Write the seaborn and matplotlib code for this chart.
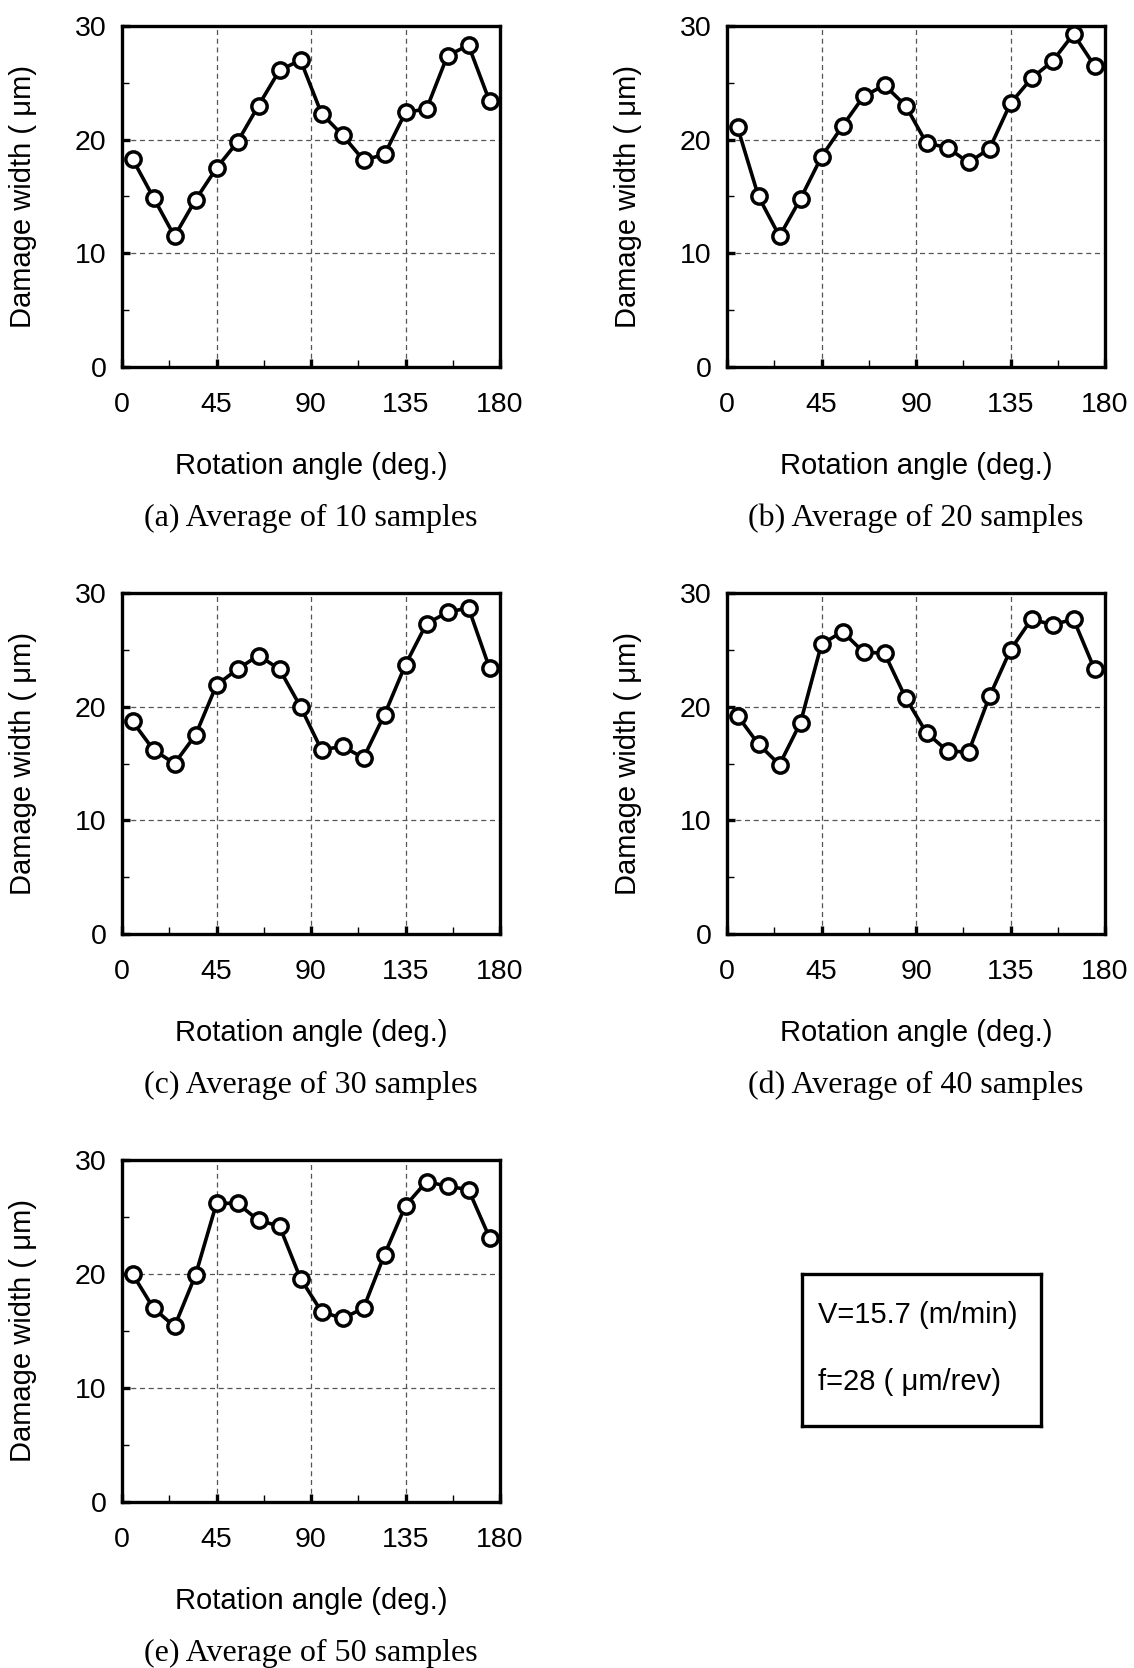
import matplotlib
matplotlib.use("Agg")
import matplotlib.pyplot as plt
from matplotlib.ticker import MultipleLocator
import seaborn as sns
import pandas as pd

sns.set_theme(style="white")
plt.rcParams['font.family'] = ['Liberation Sans', 'DejaVu Sans']

# ---- data ----
angles = [5, 15, 25, 35, 45, 55, 65, 75, 85, 95, 105, 115, 125, 135, 145, 155, 165, 175]
avg10 = [18.3, 14.9, 11.5, 14.7, 17.5, 19.8, 23.0, 26.1, 27.0, 22.3, 20.4, 18.2, 18.7, 22.4, 22.7, 27.4, 28.3, 23.4]
avg20 = [21.1, 15.0, 11.5, 14.8, 18.5, 21.2, 23.8, 24.8, 23.0, 19.7, 19.3, 18.0, 19.2, 23.2, 25.4, 26.9, 29.3, 26.5]
avg30 = [18.7, 16.2, 15.0, 17.5, 21.9, 23.3, 24.5, 23.3, 20.0, 16.2, 16.5, 15.5, 19.3, 23.7, 27.3, 28.3, 28.7, 23.4]
avg40 = [19.2, 16.7, 14.9, 18.6, 25.5, 26.6, 24.8, 24.7, 20.8, 17.7, 16.1, 16.0, 20.9, 25.0, 27.7, 27.2, 27.7, 23.3]
avg50 = [20.0, 17.0, 15.4, 19.9, 26.2, 26.2, 24.7, 24.2, 19.6, 16.7, 16.1, 17.0, 21.7, 26.0, 28.1, 27.7, 27.4, 23.2]
series = [avg10, avg20, avg30, avg40, avg50]
captions = ["(a) Average of 10 samples", "(b) Average of 20 samples",
            "(c) Average of 30 samples", "(d) Average of 40 samples",
            "(e) Average of 50 samples"]
x_ticks = [0, 45, 90, 135, 180]
y_ticks = [0, 10, 20, 30]
xlabel = "Rotation angle (deg.)"
ylabel = "Damage width ( \u03bcm)"
info_lines = ["V=15.7 (m/min)", "f=28 ( \u03bcm/rev)"]

W, H = 1134, 1668
fig = plt.figure(figsize=(W / 100, H / 100), dpi=100)

# axes boxes in pixels (left, top, right, bottom)
boxes = [(122, 26, 500, 367), (727, 26, 1105, 367),
         (122, 593, 500, 934), (727, 593, 1105, 934),
         (122, 1160, 500, 1502)]

for data, cap, (l, t, r, b) in zip(series, captions, boxes):
    ax = fig.add_axes([l / W, 1 - b / H, (r - l) / W, (b - t) / H])
    df = pd.DataFrame({"angle": angles, "width": data})
    sns.lineplot(data=df, x="angle", y="width", ax=ax, color="black", lw=2.6,
                 marker="o", markersize=11, markerfacecolor="white",
                 markeredgecolor="black", markeredgewidth=2.5, zorder=5)
    ax.set_xlim(0, 180)
    ax.set_ylim(0, 30)
    ax.set_xticks(x_ticks)
    ax.set_yticks(y_ticks)
    ax.xaxis.set_minor_locator(MultipleLocator(22.5))
    ax.yaxis.set_minor_locator(MultipleLocator(5))
    ax.grid(True, which="major", linestyle=(0, (4, 3)), color="#555555", lw=0.9)
    ax.set_axisbelow(True)
    for s in ax.spines.values():
        s.set_visible(True)
        s.set_color("black")
        s.set_linewidth(2.4)
    ax.tick_params(which="major", direction="in", length=6, width=2.4,
                   labelsize=20.5, colors="black", bottom=True, left=True,
                   top=False, right=False)
    ax.tick_params(axis="x", which="major", pad=18)
    ax.tick_params(axis="y", which="major", pad=11)
    ax.tick_params(which="minor", direction="in", length=5, width=1.0,
                   colors="black", bottom=True, left=True, top=False, right=False)
    ax.set_xlabel(xlabel, fontsize=21, color="black", va="center")
    ax.xaxis.set_label_coords(0.5, -(466 - 367) / (b - t))
    ax.set_ylabel(ylabel, fontsize=21, color="black", va="center")
    ax.yaxis.set_label_coords(-99 / (r - l), 0.5)
    fig.text((l + r) / 2 / W, 1 - (b + 151) / H, cap, ha="center", va="center",
             fontsize=23, family=["Liberation Serif", "DejaVu Serif"], color="black")

# info box
bl, bt, br, bb = 802, 1274, 1041, 1426
bax = fig.add_axes([bl / W, 1 - bb / H, (br - bl) / W, (bb - bt) / H])
bax.set_xticks([])
bax.set_yticks([])
for s in bax.spines.values():
    s.set_visible(True)
    s.set_color("black")
    s.set_linewidth(2.4)
bax.text(0.065, 0.73, info_lines[0], transform=bax.transAxes, fontsize=21,
         va="center", ha="left", color="black")
bax.text(0.065, 0.29, info_lines[1], transform=bax.transAxes, fontsize=21,
         va="center", ha="left", color="black")

fig.savefig("out.png", dpi=100)
